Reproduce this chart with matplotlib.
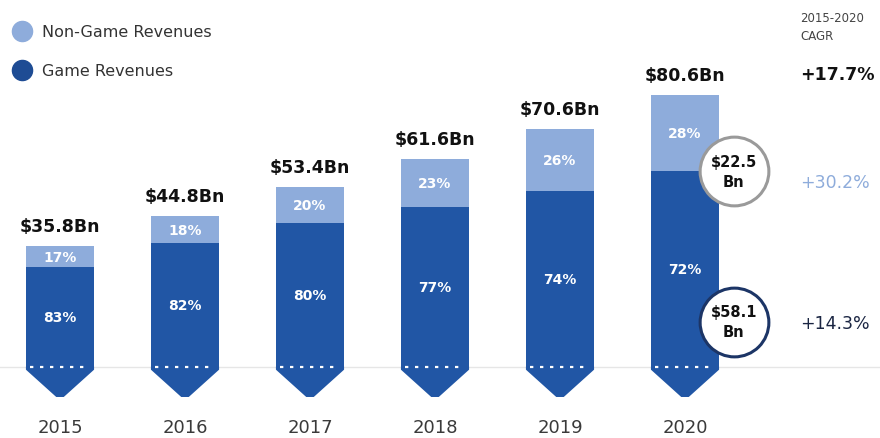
import matplotlib.pyplot as plt
from matplotlib.patches import Polygon

plt.rcParams['font.family'] = ['DejaVu Sans']

years = ['2015', '2016', '2017', '2018', '2019', '2020']
totals = [35.8, 44.8, 53.4, 61.6, 70.6, 80.6]
game_pct = [83, 82, 80, 77, 74, 72]
non_game_pct = [17, 18, 20, 23, 26, 28]
total_labels = ['$35.8Bn', '$44.8Bn', '$53.4Bn', '$61.6Bn', '$70.6Bn', '$80.6Bn']
cagr_total = '+17.7%'
cagr_non_game = '+30.2%'
cagr_game = '+14.3%'
bubble_non_game = '$22.5\nBn'
bubble_game = '$58.1\nBn'

DARK = '#2156a5'
LIGHT = '#8eacdb'
W = 0.545

fig = plt.figure(figsize=(8.8, 4.39), dpi=100)
ax = fig.add_axes([0, 0, 1, 1])
ax.set_xlim(-0.48, 6.56)
ax.set_ylim(-21.07, 109.2)
ax.axis('off')

x = list(range(len(years)))
game = [t * g / 100 for t, g in zip(totals, game_pct)]
non_game = [t - g for t, g in zip(totals, game)]

ax.axhline(0, color='#e6e6e6', lw=1, zorder=0)
ax.bar(x, game, width=W, color=DARK, zorder=2)
ax.bar(x, non_game, bottom=game, width=W, color=LIGHT, zorder=2)

for i in x:
    # arrow tip under each bar
    pts = [(i - W / 2, 0.1), (i + W / 2, 0.1), (i + W / 2, -0.8),
           (i + 0.03, -8.9), (i - 0.03, -8.9), (i - W / 2, -0.8)]
    ax.add_patch(Polygon(pts, closed=True, color=DARK, zorder=2, lw=0))
    ax.plot([i - W / 2 + 0.03, i + W / 2 - 0.03], [0, 0], color='white',
            lw=1.6, dashes=(1.5, 3), zorder=3)
    ax.text(i, totals[i] + 6, total_labels[i], ha='center', va='center',
            fontsize=12.5, fontweight='bold', color='#111111')
    ax.text(i, game[i] + non_game[i] / 2, f'{non_game_pct[i]}%', ha='center',
            va='center', fontsize=10, fontweight='bold', color='white', zorder=4)
    ax.text(i, game[i] / 2, f'{game_pct[i]}%', ha='center', va='center',
            fontsize=10, fontweight='bold', color='white', zorder=4)
    ax.text(i, -17.9, years[i], ha='center', va='center', fontsize=13,
            color='#3a3a3a')

# bubbles on the 2020 bar
bx = 5.39
ax.scatter([bx], [game[5]], s=2450, facecolor='white', edgecolor='#9a9a9a',
           lw=2.2, zorder=5)
ax.text(bx, game[5], bubble_non_game, ha='center', va='center', fontsize=10.5,
        fontweight='bold', color='#111111', zorder=6, linespacing=1.4)
ax.scatter([bx], [13.4], s=2450, facecolor='white', edgecolor='#1c3566',
           lw=2.2, zorder=5)
ax.text(bx, 13.4, bubble_game, ha='center', va='center', fontsize=10.5,
        fontweight='bold', color='#111111', zorder=6, linespacing=1.4)

# legend
ax.scatter([-0.304], [99.6], s=210, color=LIGHT, zorder=5)
ax.text(-0.145, 99.6, 'Non-Game Revenues', va='center', fontsize=11.5, color='#333333')
ax.scatter([-0.304], [88.0], s=210, color='#1e4c94', zorder=5)
ax.text(-0.145, 88.0, 'Game Revenues', va='center', fontsize=11.5, color='#333333')

# CAGR column
ax.text(5.92, 100.9, '2015-2020\nCAGR', va='center', fontsize=8.5,
        color='#444444', linespacing=1.5)
ax.text(5.92, 87.0, cagr_total, va='center', fontsize=12.5, fontweight='bold',
        color='#111111')
ax.text(5.92, 55.0, cagr_non_game, va='center', fontsize=12.5, color=LIGHT)
ax.text(5.92, 13.0, cagr_game, va='center', fontsize=12.5, color='#1a2542')

fig.savefig('out.png', dpi=100)
